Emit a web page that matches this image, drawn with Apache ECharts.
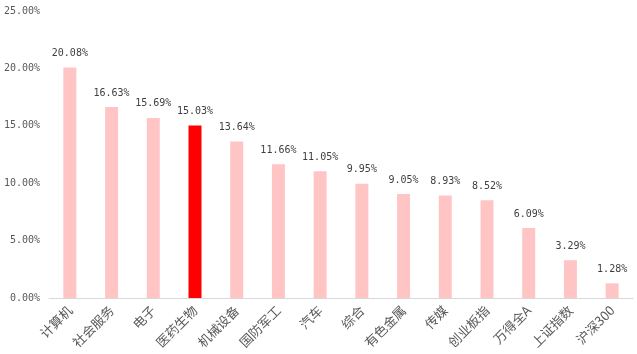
<!DOCTYPE html>
<html>
<head>
<meta charset="utf-8">
<script src="https://cdn.jsdelivr.net/npm/echarts@6/dist/echarts.min.js"></script>
<style>
  html, body { margin: 0; padding: 0; background: #fff; }
  #chart { width: 637px; height: 354px; }
</style>
</head>
<body>
<div id="chart"></div>
<script>
  // 行业涨幅
  var categories = ['计算机', '社会服务', '电子', '医药生物', '机械设备', '国防军工', '汽车', '综合', '有色金属', '传媒', '创业板指', '万得全A', '上证指数', '沪深300']
  var values = [20.08, 16.63, 15.69, 15.03, 13.64, 11.66, 11.05, 9.95, 9.05, 8.93, 8.52, 6.09, 3.29, 1.28]
  var highlight = '医药生物'

  var myChart = echarts.init(document.getElementById('chart'))
  myChart.setOption({
    animation: false,
    grid: { left: 49, right: 4, top: 11, bottom: 56 },
    xAxis: {
      type: 'category',
      data: categories,
      axisTick: { show: false },
      axisLine: { lineStyle: { color: '#D9D9D9', width: 1 } },
      axisLabel: {
        interval: 0,
        rotate: 45,
        color: '#595959',
        fontSize: 13,
        fontFamily: 'Noto Sans CJK SC',
        margin: 10
      }
    },
    yAxis: {
      type: 'value',
      min: 0,
      max: 25,
      interval: 5,
      splitLine: { show: false },
      axisLine: { show: false },
      axisTick: { show: false },
      axisLabel: {
        color: '#595959',
        fontSize: 10,
        fontFamily: 'DejaVu Sans Mono',
        margin: 9,
        formatter: function (v) { return v.toFixed(2) + '%' }
      }
    },
    series: [{
      type: 'bar',
      barWidth: 13,
      data: values.map(function (v, i) {
        return {
          value: v,
          itemStyle: { color: categories[i] === highlight ? '#FF0000' : '#FFC5C5' }
        }
      }),
      label: {
        show: true,
        position: 'top',
        distance: 9,
        color: '#404040',
        fontSize: 10,
        fontFamily: 'DejaVu Sans Mono',
        formatter: function (p) { return p.value.toFixed(2) + '%' }
      }
    }]
  })
</script>
</body>
</html>
